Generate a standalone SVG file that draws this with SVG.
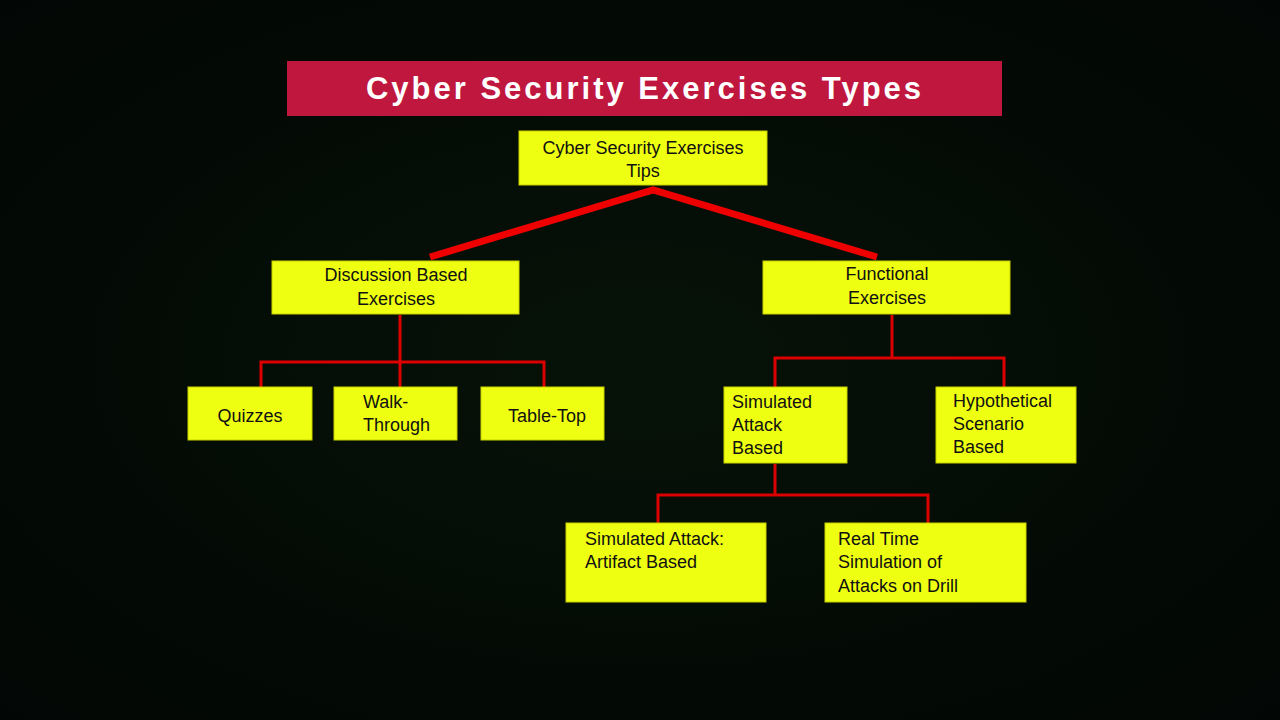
<svg xmlns="http://www.w3.org/2000/svg" width="1280" height="720" viewBox="0 0 1280 720">
<defs>
<radialGradient id="bg" cx="50%" cy="50%" r="70%"><stop offset="0" stop-color="#061208"/><stop offset="1" stop-color="#020604"/></radialGradient>
<style>
.n{fill:#eeff11;stroke:#c8d000;stroke-width:1}
.t{font-family:"Liberation Sans",Arial,sans-serif;font-size:18px;fill:#111;}
.c{text-anchor:middle}
.w{stroke:#dd0000;fill:none;stroke-width:3}
</style>
</defs>
<rect width="1280" height="720" fill="url(#bg)"/>
<g id="title"><rect x="287" y="61" width="715" height="55" fill="#c0173f"/>
<text x="645" y="99" text-anchor="middle" font-family="Liberation Sans,Arial,sans-serif" font-weight="bold" font-size="31" letter-spacing="3" fill="#fff">Cyber Security Exercises Types</text></g>
<g id="connectors">
<path d="M430 257 L653 190 L877 257" stroke="#ee0000" stroke-width="7" fill="none"/>
<path class="w" d="M400 315 V387 M261 387 V362 H544 V387"/>
<path class="w" d="M892 315 V358 M775 387 V358 H1004 V387"/>
<path class="w" d="M775 464 V495 M658 523 V495 H928 V523"/>
</g>
<g id="root"><rect class="n" x="519" y="131" width="248" height="54"/><text class="t c" x="643" y="154">Cyber Security Exercises</text><text class="t c" x="643" y="177">Tips</text></g>
<g id="discussion"><rect class="n" x="272" y="261" width="247" height="53"/><text class="t c" x="396" y="281">Discussion Based</text><text class="t c" x="396" y="305">Exercises</text></g>
<g id="functional"><rect class="n" x="763" y="261" width="247" height="53"/><text class="t c" x="887" y="280">Functional</text><text class="t c" x="887" y="304">Exercises</text></g>
<g id="quizzes"><rect class="n" x="188" y="387" width="124" height="53"/><text class="t c" x="250" y="422">Quizzes</text></g>
<g id="walk"><rect class="n" x="334" y="387" width="123" height="53"/><text class="t" x="363" y="408">Walk-</text><text class="t" x="363" y="431">Through</text></g>
<g id="tabletop"><rect class="n" x="481" y="387" width="123" height="53"/><text class="t c" x="547" y="422">Table-Top</text></g>
<g id="simulated"><rect class="n" x="724" y="387" width="123" height="76"/><text class="t" x="732" y="408">Simulated</text><text class="t" x="732" y="431">Attack</text><text class="t" x="732" y="454">Based</text></g>
<g id="hypothetical"><rect class="n" x="936" y="387" width="140" height="76"/><text class="t" x="953" y="407">Hypothetical</text><text class="t" x="953" y="430">Scenario</text><text class="t" x="953" y="453">Based</text></g>
<g id="artifact"><rect class="n" x="566" y="523" width="200" height="79"/><text class="t" x="585" y="545">Simulated Attack:</text><text class="t" x="585" y="568">Artifact Based</text></g>
<g id="realtime"><rect class="n" x="825" y="523" width="201" height="79"/><text class="t" x="838" y="545">Real Time</text><text class="t" x="838" y="568">Simulation of</text><text class="t" x="838" y="592">Attacks on Drill</text></g>
</svg>
